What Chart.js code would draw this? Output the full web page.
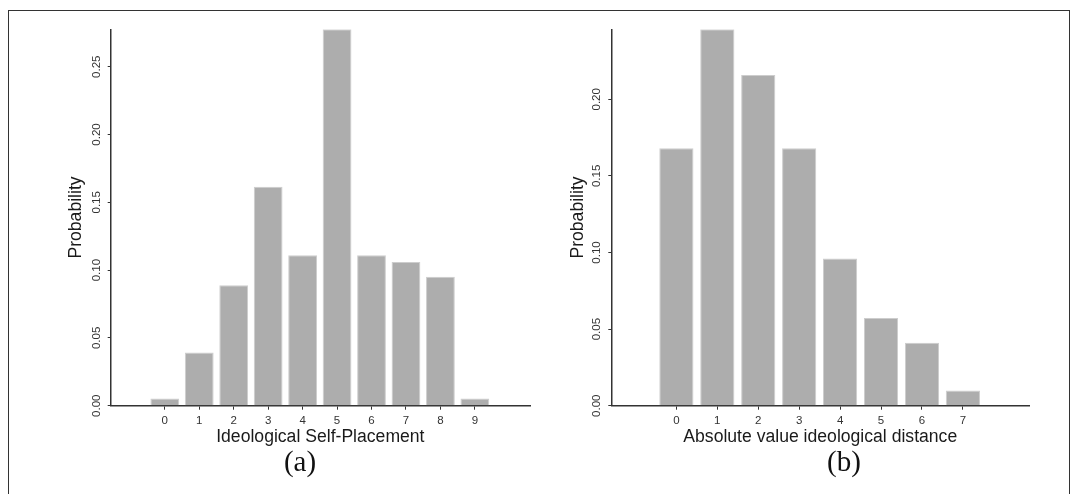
<!DOCTYPE html>
<html>
<head>
<meta charset="utf-8">
<script src="https://cdn.jsdelivr.net/npm/chart.js@4.4.1/dist/chart.umd.min.js"></script>
<style>
  body { margin: 0; background: #fff; }
  #wrap { position: relative; width: 1078px; height: 494px; overflow: hidden; }
  #frame { position: absolute; left: 8px; top: 10px; width: 1062px; height: 520px; border: 1.5px solid #333; box-sizing: border-box; }
  canvas { position: absolute; top: 0; }
  .tag { position: absolute; font-family: "Liberation Serif", "Times New Roman", serif; font-size: 29px; color: #111; transform: translate(-50%, -50%); line-height: 1; }
</style>
</head>
<body>
<div id="wrap">
  <div id="frame"></div>
  <canvas id="chartA" width="540" height="494" style="left:0"></canvas>
  <canvas id="chartB" width="538" height="494" style="left:540px"></canvas>
  <div class="tag" style="left:300px; top:461px">(a)</div>
  <div class="tag" style="left:844px; top:461px">(b)</div>
</div>
<script>
// panel (a): ideological self-placement
const selfPlacement = [0, 1, 2, 3, 4, 5, 6, 7, 8, 9];
const selfProb = [0.0054, 0.0393, 0.0889, 0.1614, 0.1110, 0.2776, 0.1110, 0.1059, 0.0951, 0.0054];

// panel (b): absolute ideological distance
const distance = [0, 1, 2, 3, 4, 5, 6, 7];
const distanceProb = [0.1681, 0.2457, 0.2159, 0.1681, 0.0961, 0.0572, 0.0411, 0.0100];

const probTicks = [0, 0.05, 0.10, 0.15, 0.20, 0.25];

const FONT = '"Liberation Sans", Arial, sans-serif';
const AXIS = '#333';

function makeChart(id, cats, vals, xTitle, box) {
  const yMax = Math.max(...vals);
  return new Chart(document.getElementById(id), {
    type: 'bar',
    data: {
      datasets: [{
        data: cats.map((c, i) => ({ x: c, y: vals[i] })),
        backgroundColor: '#adadad',
        borderColor: '#cdcdcd',
        borderWidth: 1,
        categoryPercentage: 1,
        barPercentage: 0.835
      }]
    },
    options: {
      responsive: false,
      animation: false,
      layout: { padding: box.padding },
      plugins: { legend: { display: false }, tooltip: { enabled: false } },
      scales: {
        x: {
          type: 'linear',
          offset: false,
          min: box.xMin,
          max: box.xMax,
          afterBuildTicks: (s) => { s.ticks = cats.map(c => ({ value: c })); },
          afterFit: (s) => { s.height = box.xHeight; },
          grid: { display: true, offset: false, drawOnChartArea: false, tickLength: 4, color: AXIS, lineWidth: 1 },
          border: { display: true, color: AXIS, width: 1.5 },
          ticks: { font: { family: FONT, size: 11.5 }, color: '#333', padding: 4.4, autoSkip: false, maxRotation: 0 },
          title: { display: true, text: xTitle, font: { family: FONT, size: 17.6 }, color: '#1a1a1a', padding: 0 }
        },
        y: {
          min: 0,
          max: yMax,
          afterBuildTicks: (s) => { s.ticks = probTicks.filter(v => v <= yMax).map(v => ({ value: v })); },
          afterFit: (s) => { s.width = box.yWidth; },
          grid: { display: true, drawOnChartArea: false, tickLength: 3, color: AXIS, lineWidth: 1 },
          border: { display: true, color: AXIS, width: 1.5 },
          ticks: {
            font: { family: FONT, size: 11.5 }, color: '#333', padding: 0,
            minRotation: 90, maxRotation: 90, crossAlign: 'center', autoSkip: false,
            callback: (v) => Number(v).toFixed(2)
          },
          title: { display: true, text: 'Probability', font: { family: FONT, size: 17.6 }, color: '#1a1a1a', padding: 0 }
        }
      }
    }
  });
}

makeChart('chartA', selfPlacement, selfProb, 'Ideological Self-Placement', {
  padding: { left: 65.2, right: 10, top: 29.3, bottom: 46.7 },
  yWidth: 45.5, xHeight: 41.6, xMin: -1.57, xMax: 10.6
});

makeChart('chartB', distance, distanceProb, 'Absolute value ideological distance', {
  padding: { left: 27.1, right: 48.8, top: 29.3, bottom: 46.7 },
  yWidth: 44.2, xHeight: 41.6, xMin: -1.59, xMax: 8.62
});
</script>
</body>
</html>
